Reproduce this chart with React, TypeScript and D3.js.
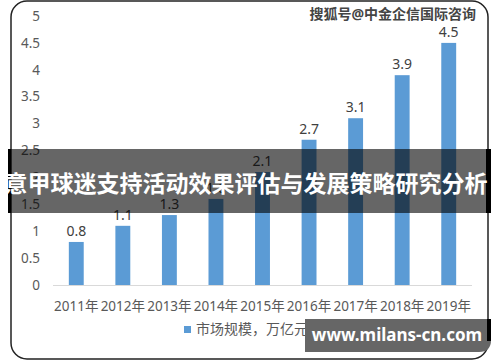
import React from 'react';
import * as d3 from 'd3';

const years = ['2011年', '2012年', '2013年', '2014年', '2015年', '2016年', '2017年', '2018年', '2019年'];
const marketSize = [0.8, 1.1, 1.3, 1.6, 2.1, 2.7, 3.1, 3.9, 4.5];
const yTicks = [0, 0.5, 1, 1.5, 2, 2.5, 3, 3.5, 4, 4.5, 5];
const legendLabel = '市场规模，万亿元';
const title = '意甲球迷支持活动效果评估与发展策略研究分析';
const watermark = '搜狐号@中金企信国际咨询';
const siteUrl = 'www.milans-cn.com';

const W = 500;
const H = 362;
const font = '"Noto Sans", "Noto Sans CJK SC", sans-serif';

export default function App() {
  const x = d3.scaleBand<string>().domain(years).range([53, 472]).paddingInner(0.68).paddingOuter(0.34);
  const y = d3.scaleLinear().domain([0, 5]).range([285, 16]);
  const fmt = (v: number) => (Number.isInteger(v) ? String(v) : v.toFixed(1));

  return (
    <svg width={W} height={H} style={{ position: 'absolute', left: 0, top: 0, fontFamily: font }}>
      <rect width={W} height={H} fill="#fff" />
      {/* frame */}
      <rect x={11} y={1} width={477} height={358} rx={16} fill="#fff" stroke="#222" strokeWidth={1.5} />

      {/* y axis labels */}
      {yTicks.map((t) => (
        <text key={t} x={40} y={y(t)} dy="0.35em" textAnchor="end" fontSize={13.5} fill="#595959">
          {fmt(t)}
        </text>
      ))}

      {/* bars */}
      {marketSize.map((v, i) => (
        <rect key={years[i]} x={x(years[i])} y={y(v)} width={x.bandwidth()} height={y(0) - y(v)} fill="#5B9BD5" />
      ))}
      {marketSize.map((v, i) => (
        <text key={'v' + i} x={(x(years[i]) as number) + x.bandwidth() / 2} y={y(v) - 6} textAnchor="middle" fontSize={14} fill="#404040">
          {fmt(v)}
        </text>
      ))}

      {/* baseline */}
      <line x1={53} x2={472} y1={y(0) + 0.5} y2={y(0) + 0.5} stroke="#D9D9D9" strokeWidth={1} />

      {/* x labels */}
      {years.map((yr) => (
        <text key={yr} x={(x(yr) as number) + x.bandwidth() / 2} y={311} textAnchor="middle" fontSize={13.5} fill="#595959">
          {yr}
        </text>
      ))}

      {/* legend */}
      <rect x={184} y={326} width={7} height={7} fill="#5B9BD5" />
      <text x={196} y={334} fontSize={14} fill="#595959">{legendLabel}</text>

      {/* watermark */}
      <text x={476} y={19} textAnchor="end" fontSize={14} fontWeight="bold" fill="#444" stroke="#fff" strokeWidth={2} paintOrder="stroke">
        {watermark}
      </text>

      {/* title banner */}
      <rect x={8} y={149} width={483} height={64} fill="rgba(0,0,0,0.6)" />
      <rect x={8} y={149} width={3} height={64} fill="#000" />
      <rect x={486} y={149} width={5} height={64} fill="#000" />
      <text x={246} y={192} textAnchor="middle" fontSize={23} fontWeight="bold" fill="#fff">
        {title}
      </text>

      {/* url box */}
      <path d="M305,319 H491 V340 Q491,352 479,352 H305 Z" fill="#666" />
      <rect x={487} y={319} width={4} height={22} fill="#000" />
      <text x={397} y={341} textAnchor="middle" fontSize={17} fontWeight="bold" fill="#fff">
        {siteUrl}
      </text>
    </svg>
  );
}
